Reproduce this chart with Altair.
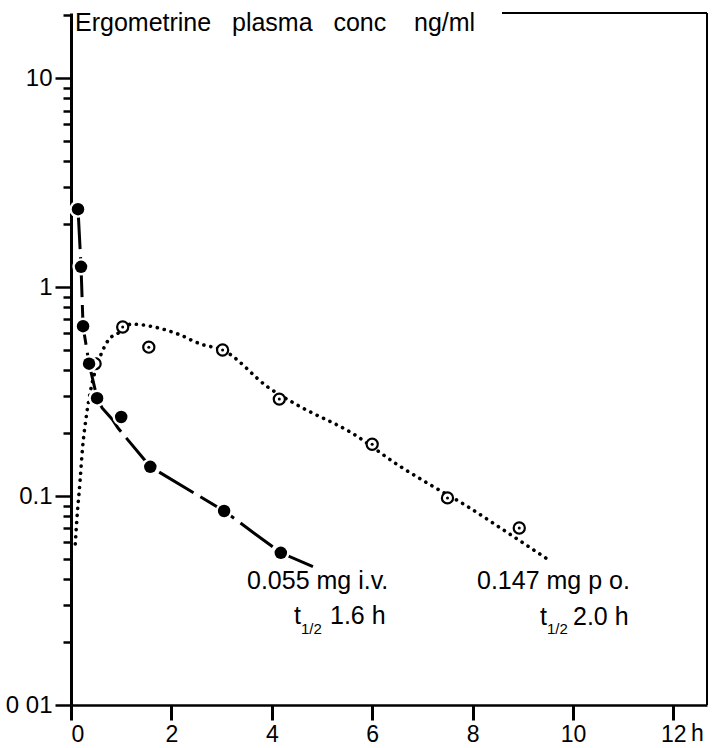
import altair as alt
import pandas as pd

# 0.055 mg i.v. -- measured plasma concentrations (time in h, conc in ng/ml)
iv_time = [0.14, 0.20, 0.24, 0.36, 0.52, 1.0, 1.58, 3.05, 4.18]
iv_conc = [2.36, 1.25, 0.65, 0.43, 0.294, 0.239, 0.138, 0.0848, 0.0535]

# 0.055 mg i.v. -- fitted curve
iv_fit_time = [0.14, 0.20, 0.24, 0.36, 0.52, 0.62, 0.82, 0.94, 1.58, 3.05, 4.18, 4.82]
iv_fit_conc = [2.36, 1.25, 0.65, 0.43, 0.294, 0.264, 0.233, 0.211, 0.138, 0.0848, 0.0535, 0.046]

# 0.147 mg p.o. -- measured plasma concentrations
po_time = [0.48, 1.03, 1.55, 3.02, 4.15, 6.0, 7.5, 8.93]
po_conc = [0.43, 0.644, 0.516, 0.50, 0.291, 0.177, 0.098, 0.0703]

# 0.147 mg p.o. -- fitted curve
po_fit_time = [0.085, 0.12, 0.18, 0.23, 0.30, 0.40, 0.50, 0.60, 0.76, 0.93, 1.20,
               1.66, 2.13, 2.59, 3.02, 3.94, 4.54, 5.60, 6.53, 7.19, 7.87, 8.53, 9.46]
po_fit_conc = [0.059, 0.079, 0.118, 0.17, 0.236, 0.329, 0.41, 0.478, 0.564, 0.60, 0.665,
               0.644, 0.596, 0.533, 0.50, 0.33, 0.27, 0.20, 0.14, 0.112, 0.09, 0.071, 0.0505]

# axis ticks
x_ticks = [0, 2, 4, 6, 8, 10, 12]
y_major = [0.01, 0.1, 1, 10]
y_minor = [round(m * d, 4) for d in (0.01, 0.1, 1) for m in range(2, 10)] + [20]

FONT = "Liberation Sans"
W, H = 636, 692

iv_pts = pd.DataFrame({"t": iv_time, "c": iv_conc})
iv_fit = pd.DataFrame({"t": iv_fit_time, "c": iv_fit_conc})
po_pts = pd.DataFrame({"t": po_time, "c": po_conc})
po_fit = pd.DataFrame({"t": po_fit_time, "c": po_fit_conc})

major_test = "indexof([0.01, 0.1, 1, 10], datum.value) >= 0"

X = alt.X(
    "t:Q",
    scale=alt.Scale(domain=[0, 12.67], nice=False, zero=False),
    axis=alt.Axis(
        values=x_ticks, title=None, grid=False, format="d",
        tickSize=15, tickWidth=3, tickColor="black",
        domainWidth=2.5, domainColor="black",
        labelFont=FONT, labelFontSize=23, labelColor="black", labelPadding=3,
    ),
)
Y = alt.Y(
    "c:Q",
    scale=alt.Scale(type="log", domain=[0.01, 20.5], nice=False),
    axis=alt.Axis(
        values=y_major + y_minor, title=None, grid=False, labelOverlap=False,
        labelExpr=("datum.value == 10 ? '10' : datum.value == 1 ? '1' : "
                   "datum.value == 0.1 ? '0.1' : datum.value == 0.01 ? '0 01' : ''"),
        tickSize={"condition": {"test": major_test, "value": 16}, "value": 8},
        tickWidth=2.5, tickColor="black",
        domainWidth=3, domainColor="black",
        labelFont=FONT, labelFontSize=24, labelColor="black", labelPadding=3,
    ),
)

po_line = alt.Chart(po_fit).mark_line(
    color="black", strokeWidth=3.6, strokeDash=[0.1, 7], strokeCap="round",
    interpolate="monotone",
).encode(x=X, y=Y)

iv_line = alt.Chart(iv_fit).mark_line(
    color="black", strokeWidth=3, strokeDash=[40, 8], interpolate="linear",
).encode(x=X, y=Y)

po_circles = alt.Chart(po_pts).mark_circle(
    fill="white", stroke="black", strokeWidth=2.2, size=125, opacity=1,
).encode(x=X, y=Y)

po_dots = alt.Chart(po_pts).mark_circle(color="black", size=9, opacity=1).encode(x=X, y=Y)

iv_halo = alt.Chart(iv_pts).mark_circle(color="white", size=300, opacity=1).encode(x=X, y=Y)

iv_dots = alt.Chart(iv_pts).mark_circle(color="black", size=155, opacity=1).encode(x=X, y=Y)

# partial frame: top edge to the right of the heading, and right edge
frame_top = alt.Chart().mark_rule(color="black", strokeWidth=2).encode(
    x=alt.value(431), x2=alt.value(W), y=alt.value(0)
)
frame_right = alt.Chart().mark_rule(color="black", strokeWidth=2).encode(
    x=alt.value(W), y=alt.value(0), y2=alt.value(H)
)


def label(text, x, y, size=25, baseline="alphabetic"):
    return alt.Chart().mark_text(
        text=text, font=FONT, fontSize=size, color="black",
        align="left", baseline=baseline,
    ).encode(x=alt.value(x), y=alt.value(y))


NB = "\u00a0"
heading = label("Ergometrine" + NB * 3 + "plasma" + NB * 3 + "conc" + NB * 4 + "ng/ml",
                4, 18, size=25)

texts = [
    heading,
    label("0.055 mg i.v.", 176, 576),
    label("t", 223, 611),
    label("1/2", 230, 621, size=15),
    label("1.6 h", 259, 611),
    label("0.147 mg p o.", 406, 576),
    label("t", 469, 612),
    label("1/2", 476, 621, size=15),
    label("2.0 h", 502, 612),
    label("h", 620, H + 18, size=23, baseline="top"),
]

chart = alt.layer(
    po_line, iv_line, po_circles, po_dots, iv_halo, iv_dots,
    frame_top, frame_right, *texts,
).properties(
    width=W, height=H,
    autosize=alt.AutoSizeParams(type="none"),
    padding={"left": 71, "top": 13, "right": 5, "bottom": 43},
    background="white",
).configure_view(stroke=None)

chart.save("out.html", embed_options={"renderer": "svg", "actions": False})
